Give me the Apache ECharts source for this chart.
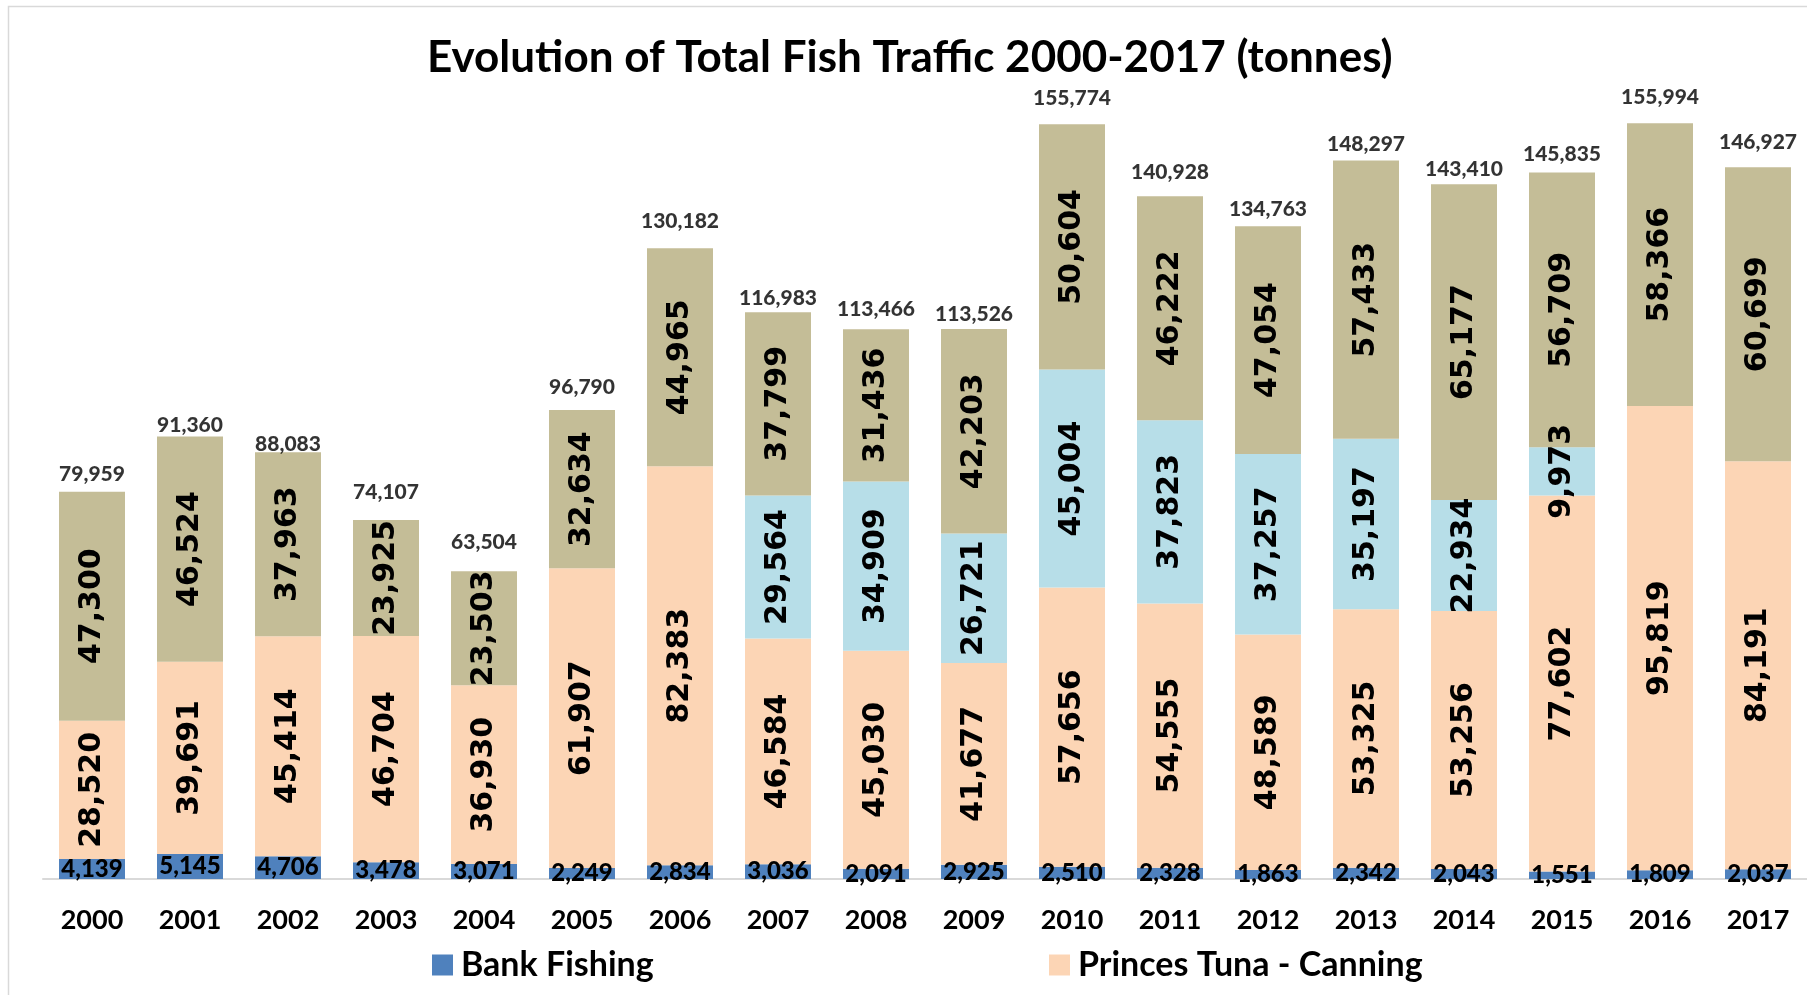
<!DOCTYPE html>
<html>
<head>
<meta charset="utf-8">
<script src="https://cdn.jsdelivr.net/npm/echarts@6/dist/echarts.min.js"></script>
<style>
  html, body { margin: 0; padding: 0; background: #ffffff; }
  #chart { width: 1807px; height: 995px; }
</style>
</head>
<body>
<div id="chart"></div>
<script>
// ---- data ----
const years = ['2000','2001','2002','2003','2004','2005','2006','2007','2008','2009',
               '2010','2011','2012','2013','2014','2015','2016','2017'];
const bankFishing = [4139, 5145, 4706, 3478, 3071, 2249, 2834, 3036, 2091, 2925,
                     2510, 2328, 1863, 2342, 2043, 1551, 1809, 2037];
const princesCanning = [28520, 39691, 45414, 46704, 36930, 61907, 82383, 46584, 45030, 41677,
                        57656, 54555, 48589, 53325, 53256, 77602, 95819, 84191];
const otherCanning = [null, null, null, null, null, null, null, 29564, 34909, 26721,
                      45004, 37823, 37257, 35197, 22934, 9973, null, null];
const otherTraffic = [47300, 46524, 37963, 23925, 23503, 32634, 44965, 37799, 31436, 42203,
                      50604, 46222, 47054, 57433, 65177, 56709, 58366, 60699];
const totals = [79959, 91360, 88083, 74107, 63504, 96790, 130182, 116983, 113466, 113526,
                155774, 140928, 134763, 148297, 143410, 145835, 155994, 146927];

// label placement (pixels above bar top, as hand-placed in the source)
const totalLabelLift = [18, 12, 9, 29, 30, 24, 28, 15, 21, 16, 27, 25, 18, 17, 16, 19, 27, 26];

const fmt = v => Number(v).toLocaleString('en-US');
const C_BANK = '#4f81bd', C_PRINCES = '#fcd5b5', C_OTHERC = '#b7dee8', C_OTHER = '#c4bd97';

const rotLabel = {
  show: true, position: 'inside', rotate: 90,
  fontFamily: 'DejaVu Sans', fontWeight: 'bold', fontSize: 30, color: '#000',
  formatter: p => fmt(p.value)
};

const legendText = { fontFamily: 'Lato', fontWeight: 'bold', fontSize: 34, lineHeight: 40, color: '#000', padding: [0, 0, 0, 3] };

const chart = echarts.init(document.getElementById('chart'), null, { renderer: 'canvas' });
chart.setOption({
  animation: false,
  backgroundColor: '#ffffff',
  title: {
    text: 'Evolution of Total Fish Traffic 2000-2017 (tonnes)',
    left: 422, top: 28, padding: 5,
    textStyle: { fontFamily: 'Lato', fontWeight: 'bold', fontSize: 44, lineHeight: 50, color: '#000' }
  },
  graphic: [{
    type: 'rect', silent: true, z: -1,
    shape: { x: 8.5, y: 6.5, width: 1900, height: 1100 },
    style: { fill: null, stroke: '#d9d9d9', lineWidth: 1.5 }
  }],
  legend: [
    { data: ['Bank Fishing'], left: 427, top: 940, icon: 'rect', itemWidth: 21, itemHeight: 21,
      textStyle: legendText },
    { data: ['Princes Tuna - Canning'], left: 1044, top: 940, icon: 'rect', itemWidth: 21, itemHeight: 21,
      textStyle: legendText }
  ],
  grid: { left: 43, right: 0, top: 7, bottom: 116, containLabel: false },
  xAxis: {
    type: 'category', data: years,
    axisLine: { show: true, lineStyle: { color: '#d9d9d9', width: 2 } },
    axisTick: { show: false },
    axisLabel: { fontFamily: 'Lato', fontWeight: 'bold', fontSize: 27, lineHeight: 27, color: '#000', margin: 28 }
  },
  yAxis: { type: 'value', min: 0, max: 180000, show: false, splitLine: { show: false } },
  series: [
    { name: 'Bank Fishing', type: 'bar', stack: 'all', barWidth: 66, data: bankFishing,
      itemStyle: { color: C_BANK },
      label: { show: true, position: 'inside', fontFamily: 'Lato', fontWeight: 900, fontSize: 24, color: '#000',
               formatter: p => fmt(p.value) } },
    { name: 'Princes Tuna - Canning', type: 'bar', stack: 'all', barWidth: 66, data: princesCanning,
      itemStyle: { color: C_PRINCES }, label: rotLabel },
    { name: 'Other Canning', type: 'bar', stack: 'all', barWidth: 66, data: otherCanning,
      itemStyle: { color: C_OTHERC }, label: rotLabel },
    { name: 'Other Traffic', type: 'bar', stack: 'all', barWidth: 66, data: otherTraffic,
      itemStyle: { color: C_OTHER }, label: rotLabel },
    { name: 'Total', type: 'scatter', symbolSize: 1, itemStyle: { color: 'rgba(0,0,0,0)' },
      data: totals.map((v, i) => ({
        value: v,
        label: { offset: [0, -totalLabelLift[i] + 1] }
      })),
      label: { show: true, position: 'inside', fontFamily: 'Lato', fontWeight: 900, fontSize: 21, color: '#000',
               formatter: p => fmt(p.value) },
      z: 5 }
  ]
});
</script>
</body>
</html>
